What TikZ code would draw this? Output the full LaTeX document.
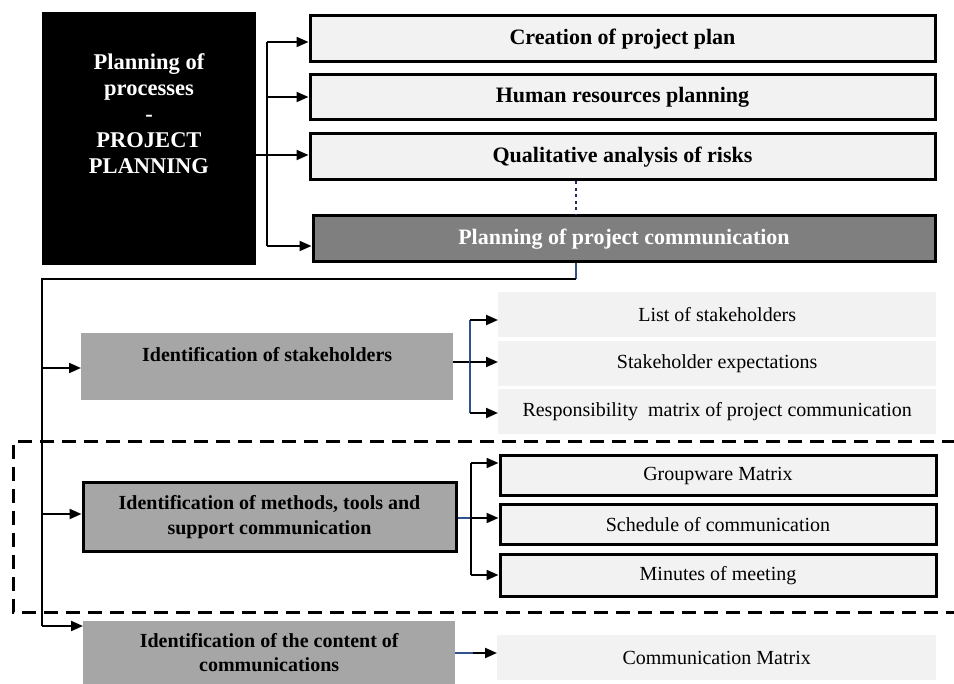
\documentclass[tikz,border=0pt]{standalone}
\usepackage{fontspec}
\setmainfont{Liberation Serif}
\usetikzlibrary{arrows.meta}
\definecolor{lbox}{HTML}{F2F2F2}
\definecolor{mbox}{HTML}{A6A6A6}
\definecolor{dbox}{HTML}{7F7F7F}
\definecolor{lnblue}{RGB}{47,82,143}
\definecolor{dotc}{RGB}{30,45,90}
\begin{document}
\begin{tikzpicture}[x=1pt,y=-1pt,
  every node/.style={inner sep=0pt, anchor=north west, align=center},
  topbox/.style={draw=black, line width=3pt, fill=lbox, minimum width=625, font=\fontsize{22}{26}\selectfont\bfseries},
  darkbox/.style={draw=black, line width=3pt, fill=dbox, text=white, font=\fontsize{22}{26}\selectfont\bfseries},
  midbox/.style={fill=mbox, font=\fontsize{20}{25}\selectfont\bfseries},
  midboxb/.style={midbox, draw=black, line width=3pt},
  outbox/.style={fill=lbox, font=\fontsize{20}{24}\selectfont},
  outboxb/.style={outbox, draw=black, line width=3pt},
  conn/.style={line width=2pt, draw=black},
  bconn/.style={line width=2pt, draw=lnblue},
  arr/.style={conn, -{Triangle[length=12pt,width=10pt]}},
]
\useasboundingbox (0,0) rectangle (954,684);
\fill[white] (0,0) rectangle (954,684);

% dashed frame
\draw[line width=3pt, dash pattern=on 14pt off 8pt] (956,442) -- (13,442) -- (13,612) -- (956,612);

% black box
\node[fill=black, minimum width=214, minimum height=253] (pp) at (42,12) {};
\node[anchor=center, text=white, font=\fontsize{22.5}{26}\selectfont\bfseries] (ppt) at (149,113.5)
  {Planning of\\processes\\-\\PROJECT\\PLANNING};

% top boxes
\node[topbox, minimum height=46] (b1) at (308.5,14.5) {Creation of project plan};
\node[topbox, minimum height=45] (b2) at (308.5,73.5) {Human resources planning};
\node[topbox, minimum height=46] (b3) at (308.5,132.5) {Qualitative analysis of risks};
\node[darkbox, minimum width=622, minimum height=46] (b4) at (311.5,214.5) {Planning of project communication};

% stakeholders
\node[midbox, minimum width=372, minimum height=67, text height=28pt, text depth=39pt] (st) at (81,333) {Identification of stakeholders};
\node[outbox, minimum width=438, minimum height=45] (s1) at (498,292) {List of stakeholders};
\node[outbox, minimum width=438, minimum height=45] (s2) at (498,341) {Stakeholder expectations};
\node[outbox, minimum width=438, minimum height=45] (s3) at (498,389) {Responsibility \ matrix of project communication};

% methods
\node[midboxb, minimum width=373, minimum height=69] (me) at (81.5,481.5) {Identification of methods, tools and\\support communication};
\node[outboxb, minimum width=436, minimum height=40] (m1) at (498.5,454.5) {Groupware Matrix};
\node[outboxb, minimum width=436, minimum height=40] (m2) at (498.5,503.5) {Schedule of communication};
\node[outboxb, minimum width=436, minimum height=41] (m3) at (498.5,553.5) {Minutes of meeting};

% content
\node[midbox, minimum width=372, minimum height=63, font=\fontsize{20}{24}\selectfont\bfseries] (co) at (83,621) {Identification of the content of\\communications};
\node[outbox, minimum width=439, minimum height=45] (cm) at (497,635) {Communication Matrix};

% top connectors
\coordinate (t1) at (267,42);
\coordinate (t2) at (267,97);
\coordinate (t3) at (267,155);
\coordinate (t4) at (267,246);
\draw[conn] (t1) -- (t4);
\draw[arr] (t1) -- (t1 -| b1.west);
\draw[arr] (t2) -- (t2 -| b2.west);
\draw[arr] (pp.east |- t3) -- (t3 -| b3.west);
\draw[arr] (t4) -- (t4 -| b4.west);

% dotted link
\coordinate (d1) at (576,279);
\draw[dotc, line width=2.5pt, dash pattern=on 3pt off 3.5pt] (b3.south -| d1) -- (b4.north -| d1);

% main trunk
\coordinate (c0) at (42,279);
\coordinate (c1) at (42,368);
\coordinate (c2) at (42,514);
\coordinate (c3) at (42,626);
\draw[bconn] (b4.south -| d1) -- (d1);
\draw[conn] (d1) -- (c0) -- (c3);
\draw[arr] (c1) -- (c1 -| st.west);
\draw[arr] (c2) -- (c2 -| me.west);
\draw[arr] (c3) -- (c3 -| co.west);

% stakeholder branch
\coordinate (u1) at (470,320);
\coordinate (u2) at (470,362);
\coordinate (u3) at (470,413);
\draw[conn] (st.east |- u2) -- (u2);
\draw[bconn] (u1) -- (u3);
\draw[arr] (u1) -- (u1 -| s1.west);
\draw[arr] (u2) -- (u2 -| s2.west);
\draw[arr] (u3) -- (u3 -| s3.west);

% methods branch
\coordinate (v1) at (471,463);
\coordinate (v2) at (471,518);
\coordinate (v3) at (471,575);
\draw[bconn] (me.east |- v2) -- (v2);
\draw[conn] (v1) -- (v3);
\draw[arr] (v1) -- (v1 -| m1.west);
\draw[arr] (v2) -- (v2 -| m2.west);
\draw[arr] (v3) -- (v3 -| m3.west);

% content branch
\coordinate (w1) at (473,653);
\draw[bconn] (co.east |- w1) -- (w1);
\draw[arr] (w1) -- (w1 -| cm.west);
\end{tikzpicture}
\end{document}
